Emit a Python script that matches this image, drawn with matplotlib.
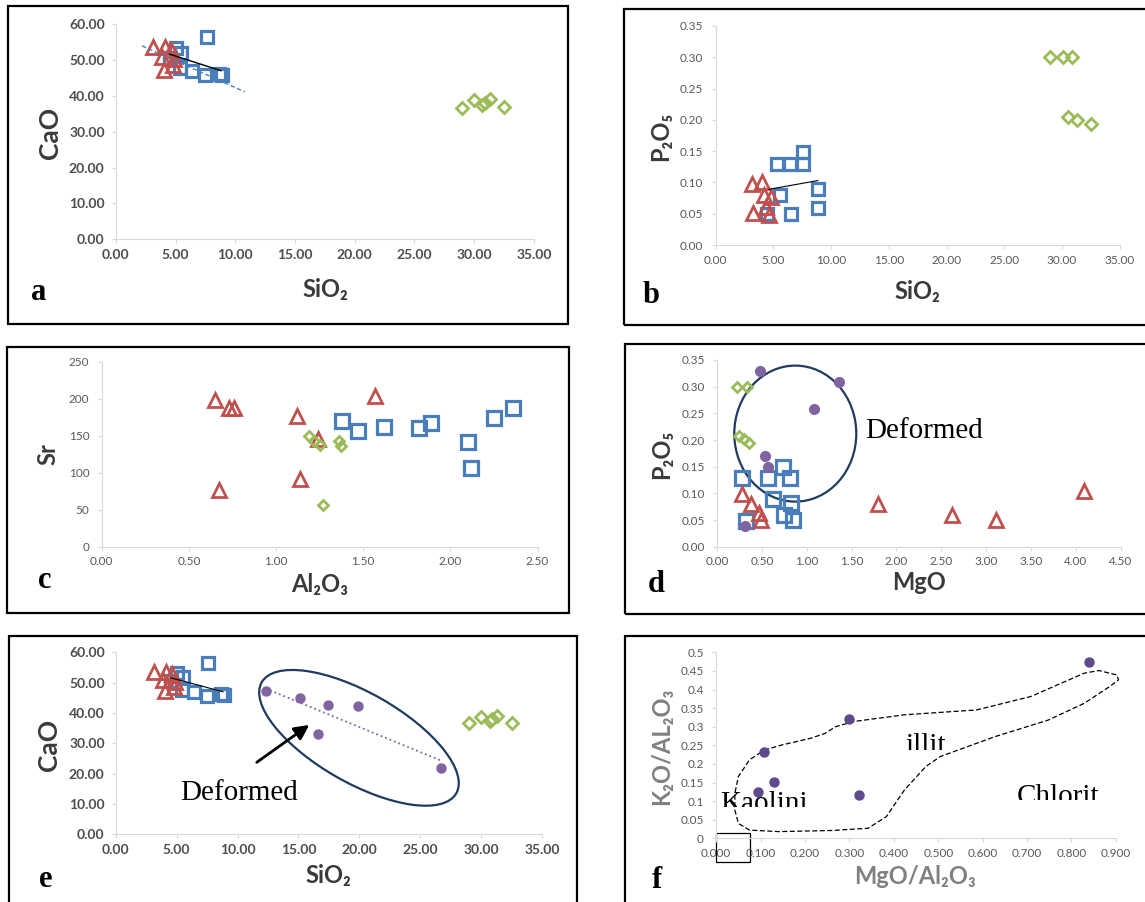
import matplotlib
matplotlib.use('Agg')
import matplotlib.pyplot as plt
import numpy as np
from matplotlib.patches import Ellipse, Rectangle
from matplotlib.transforms import ScaledTranslation, Bbox

plt.rcParams['font.family'] = ['Lato', 'DejaVu Sans']

W, H = 1145, 902

# ---- data ----
# CaO / SiO2 (panels a and e)
sq_sio2 = [4.5, 5.0, 5.5, 5.4, 6.4, 7.6, 7.5, 8.9, 8.6]
sq_cao = [50.5, 53.2, 51.8, 47.6, 47.0, 56.5, 45.7, 45.8, 46.2]
tri_sio2 = [3.1, 4.1, 4.6, 3.9, 4.0, 4.8, 4.9]
tri_cao = [53.5, 53.6, 52.8, 50.8, 47.2, 48.6, 50.3]
dia_sio2 = [29.0, 30.0, 30.7, 31.3, 30.9, 32.5]
dia_cao = [36.7, 38.8, 37.5, 39.0, 38.0, 36.8]
trend_cao_x = [4.5, 8.8]
trend_cao_y = [51.6, 47.0]
dash_cao_x = [2.2, 10.8]
dash_cao_y = [53.9, 41.1]
def_sio2 = [12.3, 15.1, 17.4, 19.9, 16.6, 26.7]
def_cao = [47.3, 45.0, 42.6, 42.2, 33.0, 21.8]

# P2O5 / SiO2 (panel b)
sq_sio2_b = [5.36, 6.46, 7.61, 7.61, 8.86, 8.86, 6.52, 5.58, 4.46]
sq_p2o5_b = [0.129, 0.129, 0.129, 0.149, 0.089, 0.059, 0.050, 0.080, 0.050]
tri_sio2_b = [3.2, 4.0, 4.2, 4.8, 3.25, 4.65, 4.35]
tri_p2o5_b = [0.098, 0.101, 0.080, 0.077, 0.051, 0.048, 0.060]
dia_sio2_b = [29.0, 30.1, 30.9, 30.5, 31.3, 32.5]
dia_p2o5_b = [0.300, 0.300, 0.300, 0.204, 0.199, 0.193]
trend_b_x = [4.65, 8.86]
trend_b_y = [0.089, 0.103]

# Sr / Al2O3 (panel c)
sq_al = [1.38, 1.47, 1.62, 1.82, 1.89, 2.10, 2.12, 2.25, 2.36]
sq_sr = [170, 157, 162, 160, 167, 141, 107, 174, 187]
tri_al = [0.65, 0.73, 0.76, 0.675, 1.12, 1.14, 1.57, 1.24]
tri_sr = [198, 188, 188, 77, 176, 91, 203, 145]
dia_al = [1.19, 1.22, 1.25, 1.36, 1.37, 1.27]
dia_sr = [150, 143, 137, 143, 136, 56]

# P2O5 / MgO (panel d)
sq_mgo = [0.28, 0.57, 0.81, 0.74, 0.63, 0.82, 0.75, 0.85, 0.32]
sq_p2o5_d = [0.129, 0.129, 0.129, 0.150, 0.089, 0.081, 0.059, 0.050, 0.049]
tri_mgo = [0.28, 0.38, 0.47, 0.49, 1.79, 2.62, 3.11, 4.09]
tri_p2o5_d = [0.098, 0.080, 0.063, 0.050, 0.080, 0.059, 0.050, 0.104]
dia_mgo = [0.22, 0.33, 0.24, 0.30, 0.36]
dia_p2o5_d = [0.300, 0.300, 0.207, 0.201, 0.195]
def_mgo = [0.48, 1.36, 1.085, 0.53, 0.57, 0.31]
def_p2o5 = [0.330, 0.309, 0.259, 0.170, 0.150, 0.039]

# K2O/Al2O3 vs MgO/Al2O3 (panel f)
f_mgo_al = [0.839, 0.299, 0.108, 0.130, 0.093, 0.321]
f_k2o_al = [0.475, 0.320, 0.233, 0.151, 0.124, 0.116]
illit_x = [0.108, 0.148, 0.213, 0.245, 0.269, 0.310, 0.424, 0.586, 0.708, 0.829,
           0.862, 0.902, 0.906, 0.886, 0.829, 0.748, 0.627, 0.505, 0.472, 0.424,
           0.383, 0.342, 0.261, 0.140, 0.075, 0.050, 0.042, 0.042, 0.050, 0.075, 0.108]
illit_y = [0.237, 0.251, 0.269, 0.282, 0.300, 0.314, 0.332, 0.345, 0.381, 0.444,
           0.451, 0.439, 0.426, 0.408, 0.363, 0.318, 0.273, 0.220, 0.193, 0.130,
           0.058, 0.027, 0.021, 0.018, 0.022, 0.040, 0.076, 0.121, 0.166, 0.211, 0.237]

BLUE = '#4a7ebb'
RED = '#c0504d'
GREEN = '#9bbb59'
PURPLE = '#8064a2'
NAVY = '#1f3b60'
DARK = '#3a3a3a'

fig = plt.figure(figsize=(W / 100, H / 100), dpi=100)


def px_axes(left, right, top, bottom):
    return fig.add_axes([left / W, 1 - bottom / H, (right - left) / W, (bottom - top) / H])


def style(ax, xmax, nx, xfmt, ymax, ny, yfmt, bold=False):
    ax.set_xlim(0, xmax)
    ax.set_ylim(0, ymax)
    xt = np.linspace(0, xmax, nx + 1)
    yt = np.linspace(0, ymax, ny + 1)
    w = 'bold' if bold else 'normal'
    ax.set_xticks(xt)
    ax.set_xticklabels([xfmt % v for v in xt], fontweight=w)
    ax.set_yticks(yt)
    ax.set_yticklabels([yfmt % v for v in yt], fontweight=w)
    for s in ['top', 'right']:
        ax.spines[s].set_visible(False)
    for s in ['left', 'bottom']:
        ax.spines[s].set_color('#d9d9d9')
        ax.spines[s].set_linewidth(0.8)
    ax.tick_params(length=3, width=0.8, color='#d9d9d9',
                   labelsize=10 if bold else 8.5,
                   labelcolor='#4d4d4d' if bold else '#595959')
    ax.tick_params(axis='x', pad=4)
    ax.tick_params(axis='y', pad=5 if bold else 6)


def frame(x0, y0, x1, y1):
    fig.add_artist(Rectangle((x0 / W, 1 - y1 / H), (x1 - x0) / W, (y1 - y0) / H,
                             transform=fig.transFigure, fill=False, lw=1.6, ec='black'))


def ftext(x, y, s, **kw):
    return fig.text(x / W, 1 - y / H, s, **kw)


def sq(ax, x, y, ms=9):
    ax.plot(x, y, ls='none', marker='s', ms=ms, mfc='none', mec=BLUE, mew=2.3)


def tri(ax, x, y, ms=10.5):
    ax.plot(x, y, ls='none', marker='^', ms=ms, mfc='none', mec=RED, mew=2.0)


def dia(ax, x, y, ms=6.5):
    ax.plot(x, y, ls='none', marker='D', ms=ms, mfc='none', mec=GREEN, mew=2.0)


def px_ellipse(ax, cx, cy, w_px, h_px, angle):
    tr = fig.dpi_scale_trans + ScaledTranslation(cx, cy, ax.transData)
    ax.add_patch(Ellipse((0, 0), w_px / 100, h_px / 100, angle=angle, transform=tr,
                         fill=False, ec=NAVY, lw=1.6, clip_on=False))


lab = dict(fontsize=17, fontweight='bold', color=DARK)
ylab_big = dict(lab, fontsize=19)
letter = dict(fontsize=22, fontweight='bold', family='Liberation Serif', color='black')
serif = dict(fontsize=21, family='Liberation Serif', color='black')

# ---- a ----
frame(8, 6, 568, 324)
ax = px_axes(115.8, 533.8, 24, 239.3)
style(ax, 35, 7, '%.2f', 60, 6, '%.2f', bold=True)
dia(ax, dia_sio2, dia_cao)
sq(ax, sq_sio2, sq_cao)
tri(ax, tri_sio2, tri_cao)
ax.plot(dash_cao_x, dash_cao_y, color=BLUE, lw=1, ls=(0, (3, 2)))
ax.plot(trend_cao_x, trend_cao_y, color='black', lw=1)
ftext(50, 132.5, 'CaO', rotation=90, ha='center', va='center', **ylab_big)
ftext(325, 296.7, 'SiO₂', ha='center', va='baseline', **lab)
ftext(31, 300, 'a', ha='left', va='baseline', **letter)

# ---- b ----
frame(624, 9, 1150, 325)
ax = px_axes(715.5, 1119.8, 26, 245)
style(ax, 35, 7, '%.2f', 0.35, 7, '%.2f')
dia(ax, dia_sio2_b, dia_p2o5_b)
sq(ax, sq_sio2_b, sq_p2o5_b)
tri(ax, tri_sio2_b, tri_p2o5_b)
ax.plot(trend_b_x, trend_b_y, color='black', lw=0.8)
ftext(661, 136, 'P₂O₅', rotation=90, ha='center', va='center', **lab)
ftext(917.8, 299, 'SiO₂', ha='center', va='baseline', **lab)
ftext(643, 303, 'b', ha='left', va='baseline', **letter)

# ---- c ----
frame(7.4, 346.7, 568.6, 613)
ax = px_axes(101.7, 537.5, 361.7, 546.7)
style(ax, 2.5, 5, '%.2f', 250, 5, '%d')
tri(ax, tri_al, tri_sr)
dia(ax, dia_al, dia_sr, ms=5.5)
sq(ax, sq_al, sq_sr, ms=9.5)
ftext(48, 454, 'Sr', rotation=90, ha='center', va='center', **lab)
ftext(320, 591.7, 'Al₂O₃', ha='center', va='baseline', **lab)
ftext(38, 588.3, 'c', ha='left', va='baseline', **letter)

# ---- d ----
frame(625, 344.3, 1150, 614)
ax = px_axes(717, 1120.5, 360, 546.7)
style(ax, 4.5, 9, '%.2f', 0.35, 7, '%.2f')
dia(ax, dia_mgo, dia_p2o5_d, ms=5.5)
sq(ax, sq_mgo, sq_p2o5_d, ms=9.5)
tri(ax, tri_mgo, tri_p2o5_d, ms=10)
ax.plot(def_mgo, def_p2o5, ls='none', marker='o', ms=7, color=PURPLE)
px_ellipse(ax, 0.873, 0.212, 122, 136, 0)
ftext(864.7, 437.5, 'Deformed', ha='left', va='baseline', **serif)
ftext(662, 454, 'P₂O₅', rotation=90, ha='center', va='center', **lab)
ftext(918.7, 590, 'MgO', ha='center', va='baseline', **lab)
ftext(648, 591.7, 'd', ha='left', va='baseline', **letter)

# ---- e ----
frame(9.2, 636, 577, 910)
ax = px_axes(115.8, 542, 652.3, 834.3)
style(ax, 35, 7, '%.2f', 60, 6, '%.2f', bold=True)
dia(ax, dia_sio2, dia_cao)
sq(ax, sq_sio2, sq_cao)
tri(ax, tri_sio2, tri_cao)
ax.plot(trend_cao_x, trend_cao_y, color='black', lw=0.8)
ax.plot(def_sio2, def_cao, ls='none', marker='o', ms=6.5, color=PURPLE)
k, b0 = np.polyfit(def_sio2, def_cao, 1)
fx = np.array([min(def_sio2), max(def_sio2)])
ax.plot(fx, k * fx + b0, color=PURPLE, lw=1.3, ls=':')
px_ellipse(ax, 19.97, 31.8, 224, 90, -29.7)
ax.annotate('', xy=(16.07, 36.6), xytext=(11.39, 23.2),
            arrowprops=dict(arrowstyle='-|>', color='black', lw=2, mutation_scale=22))
ftext(180, 800.5, 'Deformed', ha='left', va='baseline', **serif)
ftext(49.5, 745, 'CaO', rotation=90, ha='center', va='center', **ylab_big)
ftext(328.5, 882.7, 'SiO₂', ha='center', va='baseline', **lab)
ftext(39, 886.7, 'e', ha='left', va='baseline', **letter)

# ---- f ----
frame(625, 636, 1150, 910)
ax = px_axes(716.2, 1115.9, 652.3, 838.3)
style(ax, 0.9, 9, '%.3f', 0.5, 10, '%g')
ax.plot(illit_x, illit_y, color='black', lw=0.9, ls=(0, (4, 2)), clip_on=False)
ax.plot(f_mgo_al, f_k2o_al, ls='none', marker='o', ms=6.5, color='#5f4a8b')
ax.add_patch(Rectangle((0, -0.065), 0.077, 0.078, fill=False, ec='black', lw=0.9,
                       clip_on=False))
t = ftext(905.4, 753, 'illit', ha='left', va='baseline', **serif)
t.set_clip_box(Bbox.from_extents(880, H - 749.5, 1000, H - 700))
t = ftext(720.5, 811, 'Kaolini', ha='left', va='baseline', **serif)
t.set_clip_box(Bbox.from_extents(700, H - 807.3, 900, H - 760))
t = ftext(1016.8, 804.3, 'Chlorit', ha='left', va='baseline', **serif)
t.set_clip_box(Bbox.from_extents(1000, H - 800, 1145, H - 750))
flab = dict(lab, color='#808080')
ftext(662, 746, 'K₂O/AL₂O₃', rotation=90, ha='center', va='center', **flab)
ftext(915, 884, 'MgO/Al₂O₃', ha='center', va='baseline', **flab)
ftext(652, 888.3, 'f', ha='left', va='baseline', **letter)

fig.savefig('out.png', dpi=100)
